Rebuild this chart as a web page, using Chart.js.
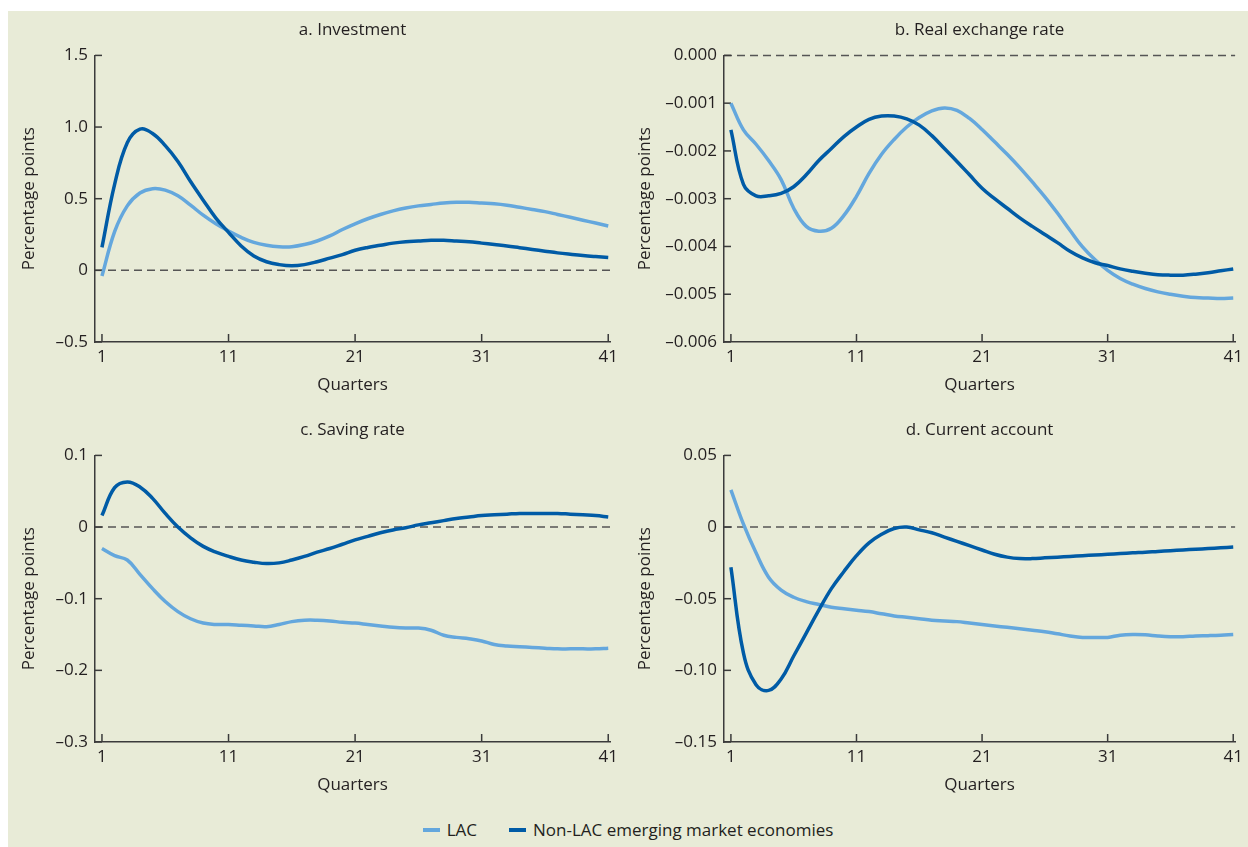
<!DOCTYPE html>
<html>
<head>
<meta charset="utf-8">
<script src="https://cdn.jsdelivr.net/npm/chart.js@4.4.0/dist/chart.umd.min.js"></script>
<style>
  html, body { margin: 0; padding: 0; background: #fff; }
  body { width: 1248px; height: 847px; position: relative; overflow: hidden; font-family: 'Open Sans', sans-serif; }
  #panel { position: absolute; left: 8px; top: 11px; width: 1240px; height: 836px; background: #e8ebd7; }
  canvas { position: absolute; }
  #legend { position: absolute; left: 0; top: 807px; width: 1240px; display: flex; justify-content: center; align-items: center; font-size: 17px; color: #231f20; }
  .key { display: inline-block; width: 17px; height: 4px; margin-right: 7px; }
  .item { display: flex; align-items: center; margin: 0 16px; }
</style>
</head>
<body>
<div id="panel">
  <canvas id="chartA" width="615" height="400" style="left:0;top:0"></canvas>
  <canvas id="chartB" width="624" height="400" style="left:616px;top:0"></canvas>
  <canvas id="chartC" width="615" height="400" style="left:0;top:400px"></canvas>
  <canvas id="chartD" width="624" height="400" style="left:616px;top:400px"></canvas>
  <div id="legend">
    <div class="item"><span class="key" style="background:#64a7dd"></span>LAC</div>
    <div class="item"><span class="key" style="background:#005ba6"></span>Non-LAC emerging market economies</div>
  </div>
</div>
<script>
// quarters after the shock
const quarters = [1, 2, 3, 4, 5, 6, 7, 8, 9, 10, 11, 12, 13, 14, 15, 16, 17, 18, 19, 20,
  21, 22, 23, 24, 25, 26, 27, 28, 29, 30, 31, 32, 33, 34, 35, 36, 37, 38, 39, 40, 41];
const xTicks = [1, 11, 21, 31, 41];

// a. Investment
const investLAC = [-0.04, 0.27, 0.45, 0.54, 0.57, 0.56, 0.52, 0.455, 0.385, 0.325, 0.275, 0.23, 0.195, 0.175, 0.165,
  0.165, 0.18, 0.205, 0.24, 0.285, 0.325, 0.36, 0.39, 0.415, 0.435, 0.45, 0.46, 0.47, 0.475, 0.475, 0.47,
  0.465, 0.455, 0.44, 0.425, 0.41, 0.39, 0.37, 0.35, 0.33, 0.31];
const investNonLAC = [0.16, 0.6, 0.89, 0.985, 0.955, 0.87, 0.76, 0.62, 0.49, 0.365, 0.265, 0.17, 0.1, 0.06, 0.04,
  0.032, 0.04, 0.06, 0.085, 0.11, 0.14, 0.16, 0.175, 0.19, 0.2, 0.205, 0.21, 0.21, 0.205, 0.2, 0.19,
  0.18, 0.17, 0.158, 0.146, 0.134, 0.122, 0.112, 0.103, 0.096, 0.09];
const investTicks = [1.5, 1.0, 0.5, 0, -0.5];
const investLabels = ['1.5', '1.0', '0.5', '0', '\u20130.5'];

// b. Real exchange rate
const rerLAC = [-0.001, -0.00156, -0.00186, -0.0022, -0.0026, -0.0032, -0.00358, -0.00368, -0.00362, -0.00335,
  -0.00295, -0.00247, -0.00207, -0.00176, -0.0015, -0.0013, -0.00116, -0.0011, -0.00115, -0.00132,
  -0.00155, -0.00181, -0.00207, -0.00235, -0.00265, -0.00296, -0.0033, -0.00366, -0.00401, -0.00428,
  -0.0045, -0.00467, -0.00479, -0.00488, -0.00495, -0.005, -0.00504, -0.00507, -0.00508, -0.00509, -0.00508];
const rerNonLAC = [-0.00156, -0.0027, -0.00294, -0.00294, -0.00289, -0.00275, -0.0025, -0.0022, -0.00195, -0.0017,
  -0.0015, -0.00134, -0.00127, -0.00127, -0.00133, -0.00146, -0.00168, -0.00195, -0.00222, -0.0025,
  -0.00278, -0.003, -0.0032, -0.0034, -0.00358, -0.00375, -0.00392, -0.0041, -0.00424, -0.00434,
  -0.0044, -0.00447, -0.00452, -0.00456, -0.00459, -0.0046, -0.0046, -0.00458, -0.00455, -0.00451, -0.00447];
const rerTicks = [0, -0.001, -0.002, -0.003, -0.004, -0.005, -0.006];
const rerLabels = ['0.000', '\u20130.001', '\u20130.002', '\u20130.003', '\u20130.004', '\u20130.005', '\u20130.006'];

// c. Saving rate
const savingLAC = [-0.03, -0.04, -0.046, -0.066, -0.086, -0.104, -0.118, -0.128, -0.134, -0.136, -0.136,
  -0.137, -0.138, -0.139, -0.136, -0.132, -0.13, -0.13, -0.131, -0.133, -0.134, -0.136, -0.138, -0.14,
  -0.141, -0.141, -0.144, -0.151, -0.154, -0.156, -0.159, -0.164, -0.166, -0.167, -0.168, -0.169, -0.17,
  -0.17, -0.17, -0.17, -0.169];
const savingNonLAC = [0.016, 0.055, 0.063, 0.056, 0.04, 0.019, 0.0, -0.015, -0.027, -0.035, -0.041, -0.046,
  -0.049, -0.051, -0.05, -0.046, -0.041, -0.035, -0.03, -0.024, -0.018, -0.013, -0.008, -0.004, -0.001,
  0.003, 0.006, 0.009, 0.012, 0.014, 0.016, 0.017, 0.018, 0.019, 0.019, 0.019, 0.019, 0.018, 0.017, 0.016, 0.014];
const savingTicks = [0.1, 0, -0.1, -0.2, -0.3];
const savingLabels = ['0.1', '0', '\u20130.1', '\u20130.2', '\u20130.3'];

// d. Current account
const caLAC = [0.026, 0.002, -0.018, -0.035, -0.044, -0.049, -0.052, -0.054, -0.056, -0.057, -0.058, -0.059,
  -0.0605, -0.062, -0.063, -0.064, -0.065, -0.0655, -0.066, -0.067, -0.068, -0.069, -0.07, -0.071, -0.072,
  -0.073, -0.0745, -0.076, -0.077, -0.077, -0.077, -0.0755, -0.075, -0.0752, -0.076, -0.0765, -0.0765,
  -0.076, -0.0758, -0.0755, -0.075];
const caNonLAC = [-0.028, -0.088, -0.11, -0.114, -0.106, -0.09, -0.074, -0.058, -0.043, -0.031, -0.02, -0.011,
  -0.005, -0.001, 0.0, -0.002, -0.004, -0.007, -0.01, -0.013, -0.016, -0.019, -0.021, -0.022, -0.022,
  -0.0215, -0.021, -0.0205, -0.02, -0.0195, -0.019, -0.0185, -0.018, -0.0176, -0.017, -0.0165, -0.016,
  -0.0155, -0.015, -0.0145, -0.014];
const caTicks = [0.05, 0, -0.05, -0.10, -0.15];
const caLabels = ['0.05', '0', '\u20130.05', '\u20130.10', '\u20130.15'];

const LIGHT = '#64a7dd';
const DARK = '#005ba6';
const TEXT = '#231f20';

Chart.defaults.font.family = "'Open Sans', sans-serif";
Chart.defaults.font.size = 17;
Chart.defaults.color = TEXT;

// dashed zero line + inward tick marks
const axisDecor = {
  id: 'axisDecor',
  beforeDatasetsDraw(chart) {
    const { ctx, chartArea, scales } = chart;
    const x = scales.x, y = scales.y;
    ctx.save();
    const y0 = y.getPixelForValue(0);
    ctx.strokeStyle = '#555';
    ctx.lineWidth = 1.5;
    ctx.setLineDash([8, 5]);
    ctx.beginPath();
    ctx.moveTo(chartArea.left, y0);
    ctx.lineTo(chartArea.right, y0);
    ctx.stroke();
    ctx.setLineDash([]);
    ctx.strokeStyle = '#3b3b3b';
    ctx.lineWidth = 1.5;
    y.ticks.forEach(t => {
      const py = y.getPixelForValue(t.value);
      ctx.beginPath();
      ctx.moveTo(chartArea.left, py);
      ctx.lineTo(chartArea.left + 7, py);
      ctx.stroke();
    });
    x.ticks.forEach(t => {
      const px = x.getPixelForValue(t.value);
      ctx.beginPath();
      ctx.moveTo(px, chartArea.bottom);
      ctx.lineTo(px, chartArea.bottom - 8);
      ctx.stroke();
    });
    ctx.restore();
  }
};

function toPoints(vals) {
  return quarters.map((q, i) => ({ x: q, y: vals[i] }));
}

function makePanel(id, title, lac, nonLac, yTicks, yLabels, yWidth, padRight) {
  new Chart(document.getElementById(id), {
    type: 'line',
    data: {
      datasets: [
        { label: 'LAC', data: toPoints(lac), borderColor: LIGHT, borderWidth: 3.5, order: 1 },
        { label: 'Non-LAC emerging market economies', data: toPoints(nonLac), borderColor: DARK, borderWidth: 3.5, order: 0 }
      ]
    },
    options: {
      responsive: false,
      animation: false,
      layout: { padding: { left: 0, right: padRight, top: 0, bottom: 0 } },
      elements: { point: { radius: 0 }, line: { tension: 0.4, borderCapStyle: 'butt' } },
      plugins: {
        legend: { display: false },
        tooltip: { enabled: false },
        title: {
          display: true, text: title, fullSize: false, color: TEXT,
          font: { size: 17, weight: 'normal' },
          padding: { top: 9, bottom: 15 }
        }
      },
      scales: {
        x: {
          type: 'linear', min: 0.45, max: 41.15,
          grid: { display: false, drawTicks: false },
          border: { display: true, color: '#3b3b3b', width: 1.5 },
          afterBuildTicks: s => { s.ticks = xTicks.map(v => ({ value: v })); },
          afterFit: s => { s.height = 69; },
          ticks: { padding: 5, color: TEXT, maxRotation: 0, callback: v => String(v) },
          title: { display: true, text: 'Quarters', color: TEXT, padding: { top: 0, bottom: 16 } }
        },
        y: {
          min: yTicks[yTicks.length - 1], max: yTicks[0],
          grid: { display: false, drawTicks: false },
          border: { display: true, color: '#3b3b3b', width: 1.5 },
          afterBuildTicks: s => { s.ticks = yTicks.map(v => ({ value: v })); },
          afterFit: s => { s.width = yWidth; },
          ticks: { padding: 7, color: TEXT, callback: (v, i) => yLabels[i] },
          title: { display: true, text: 'Percentage points', color: TEXT, padding: { top: 11, bottom: 0 } }
        }
      }
    },
    plugins: [axisDecor]
  });
}

makePanel('chartA', 'a. Investment', investLAC, investNonLAC, investTicks, investLabels, 87, 11);
makePanel('chartB', 'b. Real exchange rate', rerLAC, rerNonLAC, rerTicks, rerLabels, 100, 9);
makePanel('chartC', 'c. Saving rate', savingLAC, savingNonLAC, savingTicks, savingLabels, 87, 11);
makePanel('chartD', 'd. Current account', caLAC, caNonLAC, caTicks, caLabels, 100, 9);
</script>
</body>
</html>
